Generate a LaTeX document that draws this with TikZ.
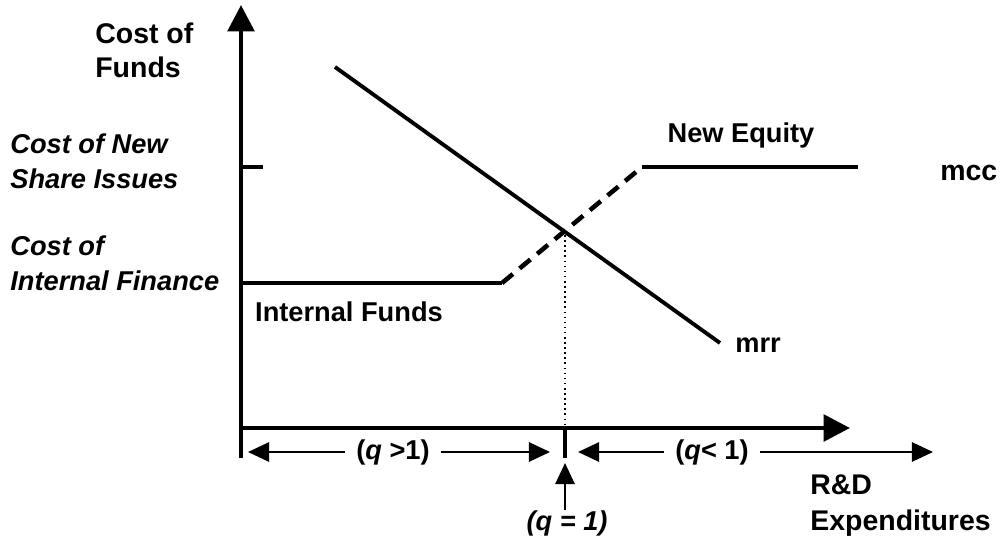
\documentclass[tikz,border=0pt]{standalone}
\usepackage{fontspec}
\setmainfont{Liberation Sans}
\usetikzlibrary{arrows.meta, positioning}
\tikzset{
  axisline/.style={line width=2.6pt, -{Triangle[length=15pt,width=15pt]}},
  curve/.style={line width=2.2pt},
  spanarrow/.style={line width=1.1pt, -{Triangle[length=12pt,width=11pt]}},
  lbl/.style={font=\fontsize{15.5}{19.5}\selectfont\bfseries, inner sep=0pt, align=left},
  biglbl/.style={lbl, font=\fontsize{16.2}{19.5}\selectfont\bfseries},
  ilbl/.style={lbl, font=\fontsize{15.5}{20}\selectfont\bfseries\itshape},
  qlbl/.style={lbl, inner xsep=6pt}
}
\begin{document}
\begin{tikzpicture}[x=0.02cm, y=-0.02cm]
  \useasboundingbox (0,0) rectangle (1003,541);

  % axes
  \coordinate (O) at (241,428);
  \coordinate (ytop) at (241,5);
  \coordinate (ybot) at (241,458);
  \coordinate (xend) at (850,428);
  \draw[axisline] (ybot) -- (ytop);
  \draw[axisline] (O) -- (xend);
  \coordinate (tick) at (241,167);
  \draw[line width=2.2pt] (tick) -- ++(22,0);

  % mcc schedule
  \coordinate (ia) at (241,283);
  \coordinate (ib) at (502,283);
  \coordinate (na) at (642,167);
  \coordinate (nb) at (858,167);
  \draw[curve] (ia) -- (ib);
  \draw[line width=2.6pt, dash pattern=on 8pt off 5pt] (ib) -- (na);
  \draw[curve] (na) -- (nb);

  % mrr schedule
  \coordinate (ma) at (335,67);
  \coordinate (mb) at (720,343);
  \draw[curve] (ma) -- (mb);

  % equilibrium
  \coordinate (eq) at (565,230);
  \coordinate (eqx) at (eq |- O);
  \coordinate (eqb) at (565,458);
  \draw[dotted, line width=0.9pt] (eq) -- (eqx);
  \draw[line width=2.6pt] (eqx) -- (eqb);

  % axis labels
  \node[biglbl, anchor=west] (funds) at (95,50) {Cost of\\Funds};
  \node[ilbl, anchor=west] (newcost) at (10,161) {Cost of New\\Share Issues};
  \node[ilbl, anchor=west] (intcost) at (10,263) {Cost of\\Internal Finance};
  \node[biglbl, anchor=west] (rd) at (810,485) {R\&D};
  \node[biglbl, anchor=west] (exp) at (810,523) {Expenditures};

  % curve labels
  \node[lbl] (newq) at (741,135) {New Equity};
  \node[lbl] (intf) at (349,312) {Internal Funds};
  \node[biglbl, anchor=west] (mcc) at (940,173) {mcc};
  \node[lbl, anchor=west] (mrr) at (735,345) {mrr};

  % q ranges
  \coordinate (la) at (248,452);
  \coordinate (lb) at (550,452);
  \coordinate (ra) at (578,452);
  \coordinate (rb) at (933,452);
  \node[qlbl] (qgt) at (393,452) {(\textit{q} >1)};
  \node[qlbl] (qlt) at (712,452) {(\textit{q}< 1)};
  \draw[spanarrow] (qgt) -- (la);
  \draw[spanarrow] (qgt) -- (lb);
  \draw[spanarrow] (qlt) -- (ra);
  \draw[spanarrow] (qlt) -- (rb);

  \node[lbl, font=\fontsize{15.5}{19.5}\selectfont\bfseries\itshape] (qeq) at (567,523) {(\textit{q} = 1)};
  \coordinate (up) at (565,463);
  \draw[spanarrow] (qeq.north -| up) -- (up);
\end{tikzpicture}
\end{document}
